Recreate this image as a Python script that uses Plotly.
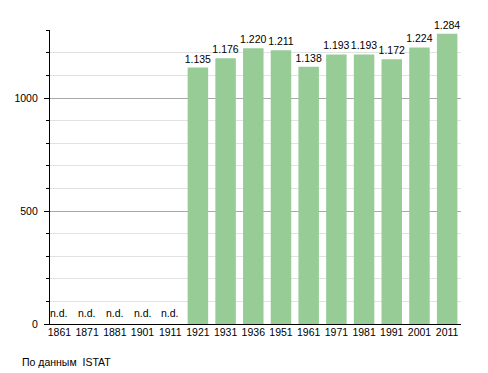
import plotly.graph_objects as go

years = ["1861", "1871", "1881", "1901", "1911", "1921", "1931", "1936",
         "1951", "1961", "1971", "1981", "1991", "2001", "2011"]
population = [None, None, None, None, None, 1135, 1176, 1220,
              1211, 1138, 1193, 1193, 1172, 1224, 1284]
bar_labels = ["", "", "", "", "", "1.135", "1.176", "1.220",
              "1.211", "1.138", "1.193", "1.193", "1.172", "1.224", "1.284"]
nd_years = ["1861", "1871", "1881", "1901", "1911"]
nd_label = "n.d."
source_text = "По данным  ISTAT"

FONT = "Liberation Sans, Arial, sans-serif"

fig = go.Figure()
fig.add_trace(go.Bar(
    x=years, y=population, text=bar_labels, textposition="outside",
    constraintext="none",
    textfont=dict(size=10.5, color="black", family=FONT),
    marker=dict(color="#97cc97", line=dict(width=0)),
    cliponaxis=False, hoverinfo="skip",
))

for yr in nd_years:
    fig.add_annotation(
        x=years.index(yr), y=0, xref="x", yref="y", text=nd_label,
        showarrow=False, xanchor="center", yanchor="bottom", yshift=3,
        font=dict(size=10.5, color="black", family=FONT),
    )

fig.add_annotation(
    text=source_text, xref="paper", yref="paper", x=-0.073, y=-0.13,
    xanchor="left", yanchor="middle", showarrow=False,
    font=dict(size=10.5, color="black", family=FONT),
)

fig.update_layout(
    width=488, height=373,
    margin=dict(l=42, r=35, t=22, b=57),
    paper_bgcolor="white", plot_bgcolor="white",
    showlegend=False, bargap=0.26,
    font=dict(family=FONT, size=10.5, color="black"),
)
fig.update_xaxes(
    type="category", range=[-0.34, 14.5], automargin=False,
    showline=True, linecolor="black", linewidth=1.3,
    ticks="", showgrid=False, ticklabelstandoff=-2,
    tickfont=dict(size=10.5, color="black", family=FONT),
)
fig.update_yaxes(
    range=[0, 1301], dtick=500, tick0=0, automargin=False,
    showline=True, linecolor="black", linewidth=1.3,
    ticks="outside", ticklen=5, tickcolor="black",
    gridcolor="#a8a8a8", gridwidth=1,
    zeroline=False, ticklabelstandoff=4,
    tickfont=dict(size=10.5, color="black", family=FONT),
    minor=dict(dtick=100, ticks="outside", ticklen=3, tickcolor="black",
               showgrid=True, gridcolor="#e2e2e2", gridwidth=1),
)

fig.write_html("out.html")
